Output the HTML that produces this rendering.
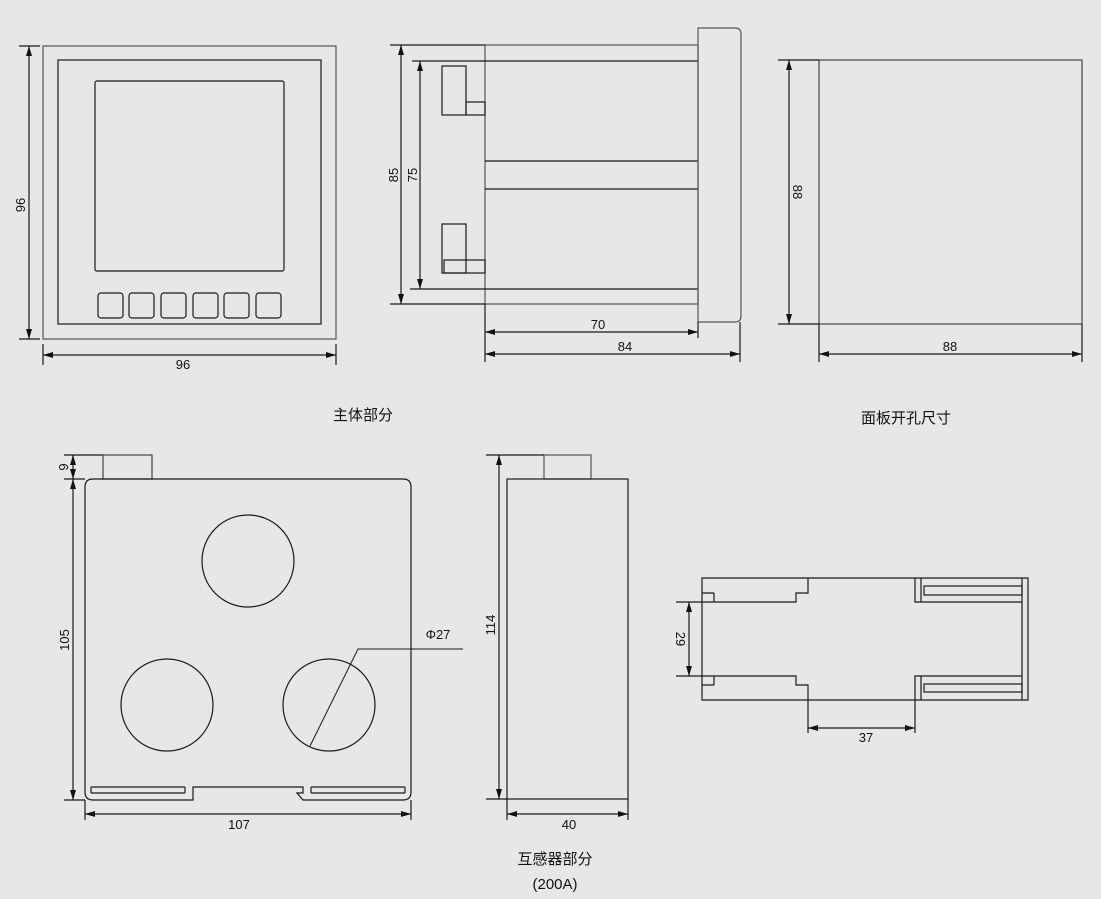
<!DOCTYPE html>
<html><head><meta charset="utf-8"><style>
html,body{margin:0;padding:0;background:#e7e7e9;}
svg{display:block}
text{font-family:"Liberation Sans","Noto Sans CJK SC",sans-serif;fill:#111;font-size:13px}
.cn{font-size:15px}
</style></head><body>
<svg width="1101" height="899" viewBox="0 0 1101 899" xmlns="http://www.w3.org/2000/svg">
<defs>
<marker id="a" viewBox="0 0 10 6" refX="10" refY="3" markerWidth="10" markerHeight="6" markerUnits="userSpaceOnUse" orient="auto-start-reverse"><path d="M0,0L10,3L0,6z" fill="#111"/></marker>
</defs>
<rect width="1101" height="899" fill="#e7e7e9"/>
<g fill="none" stroke="#1a1a1a" stroke-width="1.2">
<!-- front view -->
<rect x="43" y="46" width="293" height="293" stroke="#555"/>
<rect x="58" y="60" width="263" height="264"/>
<rect x="95" y="81" width="189" height="190" rx="2"/>
<rect x="98" y="293" width="25" height="25" rx="3"/>
<rect x="129" y="293" width="25" height="25" rx="3"/>
<rect x="161" y="293" width="25" height="25" rx="3"/>
<rect x="193" y="293" width="25" height="25" rx="3"/>
<rect x="224" y="293" width="25" height="25" rx="3"/>
<rect x="256" y="293" width="25" height="25" rx="3"/>
<path d="M19,46H40M19,339H40M43,344V365M336,344V365"/>
<line x1="29" y1="46" x2="29" y2="339" marker-start="url(#a)" marker-end="url(#a)"/>
<line x1="43" y1="355" x2="336" y2="355" marker-start="url(#a)" marker-end="url(#a)"/>
<!-- side view -->
<rect x="485" y="45" width="213" height="259" stroke="#555"/>
<path d="M485,61H698M485,161H698M485,189H698M485,289H698"/>
<path d="M698,28H735Q741,28 741,34V316Q741,322 735,322H698Z" stroke="#555"/>
<rect x="442" y="66" width="24" height="49"/>
<rect x="466" y="102" width="19" height="13"/>
<rect x="442" y="224" width="24" height="49"/>
<rect x="444" y="260" width="41" height="13"/>
<path d="M390,45H485M412,61H485M410,289H485M390,304H485M485,304V362M698,322V338M740,322V362"/>
<line x1="401" y1="45" x2="401" y2="304" marker-start="url(#a)" marker-end="url(#a)"/>
<line x1="420" y1="61" x2="420" y2="289" marker-start="url(#a)" marker-end="url(#a)"/>
<line x1="485" y1="332" x2="698" y2="332" marker-start="url(#a)" marker-end="url(#a)"/>
<line x1="485" y1="354" x2="740" y2="354" marker-start="url(#a)" marker-end="url(#a)"/>
<!-- cutout -->
<rect x="819" y="60" width="263" height="264" stroke="#444"/>
<path d="M778,60H819M778,324H819M819,324V362M1082,324V362"/>
<line x1="789" y1="60" x2="789" y2="324" marker-start="url(#a)" marker-end="url(#a)"/>
<line x1="819" y1="354" x2="1082" y2="354" marker-start="url(#a)" marker-end="url(#a)"/>
<!-- CT front -->
<rect x="103" y="455" width="49" height="24" stroke="#444"/>
<path d="M193,800H93Q85,800 85,792V487Q85,479 93,479H403Q411,479 411,487V792Q411,800 403,800H303L297,793H303V787H193Z"/>
<rect x="91" y="787" width="94" height="6" rx="1"/>
<rect x="311" y="787" width="94" height="6" rx="1"/>
<circle cx="248" cy="561" r="46"/>
<circle cx="167" cy="705" r="46"/>
<circle cx="329" cy="705" r="46"/>
<path d="M310,746L358,649H463" stroke-width="1"/>
<path d="M64,455H103M64,479H85M64,800H85M85,800V820M411,800V820"/>
<line x1="73" y1="455" x2="73" y2="479" marker-start="url(#a)" marker-end="url(#a)"/>
<line x1="73" y1="479" x2="73" y2="800" marker-start="url(#a)" marker-end="url(#a)"/>
<line x1="85" y1="814" x2="411" y2="814" marker-start="url(#a)" marker-end="url(#a)"/>
<!-- CT side -->
<rect x="544" y="455" width="47" height="24" stroke="#555"/>
<rect x="507" y="479" width="121" height="320"/>
<path d="M486,455H544M486,799H507M507,799V820M628,799V820"/>
<line x1="499" y1="455" x2="499" y2="799" marker-start="url(#a)" marker-end="url(#a)"/>
<line x1="507" y1="814" x2="628" y2="814" marker-start="url(#a)" marker-end="url(#a)"/>
<!-- right bottom -->
<path d="M702,578H1028V700H702Z"/>
<path d="M808,578V593H796V602H702M714,593V602M702,593H714"/>
<path d="M808,700V685H796V676H702M714,676V685M702,685H714"/>
<path d="M915,578V602H1022M921,578V602M1022,578V700M915,700V676H1022M921,700V676"/>
<rect x="924" y="586" width="98" height="9"/>
<rect x="924" y="684" width="98" height="8"/>
<path d="M676,602H702M676,676H702M808,700V733M915,700V733"/>
<line x1="689" y1="602" x2="689" y2="676" marker-start="url(#a)" marker-end="url(#a)"/>
<line x1="808" y1="728" x2="915" y2="728" marker-start="url(#a)" marker-end="url(#a)"/>
</g>
<!-- labels -->
<text x="183" y="369" text-anchor="middle">96</text>
<text transform="translate(25,205) rotate(-90)" text-anchor="middle">96</text>
<text transform="translate(398,175) rotate(-90)" text-anchor="middle">85</text>
<text transform="translate(417,175) rotate(-90)" text-anchor="middle">75</text>
<text x="598" y="329" text-anchor="middle">70</text>
<text x="625" y="351" text-anchor="middle">84</text>
<text transform="translate(793,192) rotate(90)" text-anchor="middle">88</text>
<text x="950" y="351" text-anchor="middle">88</text>
<text transform="translate(68,467) rotate(-90)" text-anchor="middle">9</text>
<text transform="translate(69,640) rotate(-90)" text-anchor="middle">105</text>
<text x="239" y="829" text-anchor="middle">107</text>
<text x="438" y="639" text-anchor="middle">Φ27</text>
<text transform="translate(495,625) rotate(-90)" text-anchor="middle">114</text>
<text x="569" y="829" text-anchor="middle">40</text>
<text transform="translate(676,639) rotate(90)" text-anchor="middle">29</text>
<text x="866" y="742" text-anchor="middle">37</text>
<text class="cn" x="363" y="420" text-anchor="middle">主体部分</text>
<text class="cn" x="906" y="423" text-anchor="middle">面板开孔尺寸</text>
<text class="cn" x="555" y="864" text-anchor="middle">互感器部分</text>
<text class="cn" x="555" y="889" text-anchor="middle">(200A)</text>
</svg>
</body></html>
